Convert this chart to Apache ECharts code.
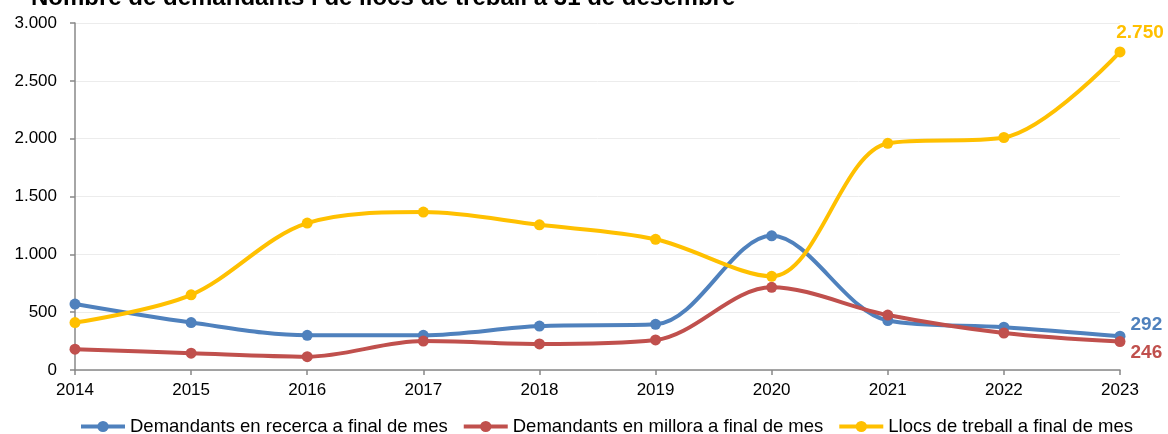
<!DOCTYPE html>
<html><head><meta charset="utf-8">
<script src="https://cdn.jsdelivr.net/npm/echarts@6/dist/echarts.min.js"></script>
<style>html,body{margin:0;padding:0;background:#fff}#c{width:1168px;height:434px}</style>
</head><body><div id="c"></div>
<script>
const titleText = 'Nombre de demandants i de llocs de treball a 31 de desembre';
const years = ['2014','2015','2016','2017','2018','2019','2020','2021','2022','2023'];
const recerca = [570, 410, 300, 300, 380, 395, 1160, 428, 370, 292];
const millora = [180, 145, 115, 250, 225, 260, 715, 475, 320, 246];
const llocs = [410, 650, 1270, 1365, 1255, 1130, 810, 1960, 2010, 2750];
const names = ['Demandants en recerca a final de mes','Demandants en millora a final de mes','Llocs de treball a final de mes'];
const colors = ['#4F81BD','#C0504D','#FFC000'];
const FONT = '"Liberation Sans", Arial, sans-serif';
const fmt = v => String(v).replace(/\B(?=(\d{3})+(?!\d))/g, '.');

function mk(name, data, color, labelOpt) {
  const d = data.map((v, i) => {
    if (i === data.length - 1) {
      return { value: v, label: Object.assign({ show: true, color: color, fontWeight: 'bold', fontSize: 19, fontFamily: FONT, formatter: p => fmt(p.value) }, labelOpt) };
    }
    return v;
  });
  return {
    name, type: 'line', data: d, smooth: 0.33,
    symbol: 'circle', symbolSize: 11,
    lineStyle: { color, width: 4 },
    itemStyle: { color },
    emphasis: { disabled: true }
  };
}

const chart = echarts.init(document.getElementById('c'), null, { renderer: 'canvas' });
chart.setOption({
  animation: false,
  title: { text: titleText, left: 26, top: -19, textStyle: { fontSize: 24, fontWeight: 'bold', color: '#000', fontFamily: FONT } },
  grid: { left: 75, right: 48, top: 23, bottom: 64, containLabel: false },
  legend: {
    bottom: -7, left: 74, itemWidth: 44, itemHeight: 14, itemGap: 14,
    lineStyle: { width: 4 },
    textStyle: { fontSize: 18.5, color: '#000', fontFamily: FONT },
    data: names
  },
  xAxis: {
    type: 'category', data: years, boundaryGap: false,
    axisLine: { lineStyle: { color: '#888', width: 1.5 } },
    axisTick: { show: true, length: 5, alignWithLabel: true, lineStyle: { color: '#888', width: 1.5 } },
    axisLabel: { color: '#000', fontSize: 17, fontFamily: FONT, margin: 12 },
    splitLine: { show: false }
  },
  yAxis: {
    type: 'value', min: 0, max: 3000, interval: 500,
    axisLine: { show: true, lineStyle: { color: '#888', width: 1.5 } },
    axisTick: { show: true, length: 5, lineStyle: { color: '#888', width: 1.5 } },
    axisLabel: { color: '#000', fontSize: 17, fontFamily: FONT, margin: 18, formatter: v => fmt(v) },
    splitLine: { lineStyle: { color: '#ececec', width: 1 } }
  },
  series: [
    mk(names[0], recerca, colors[0], { position: 'right', distance: 5, offset: [0, -11] }),
    mk(names[1], millora, colors[1], { position: 'right', distance: 5, offset: [0, 11] }),
    mk(names[2], llocs, colors[2], { position: 'top', distance: 4, offset: [20, 0] })
  ]
});
</script></body></html>
